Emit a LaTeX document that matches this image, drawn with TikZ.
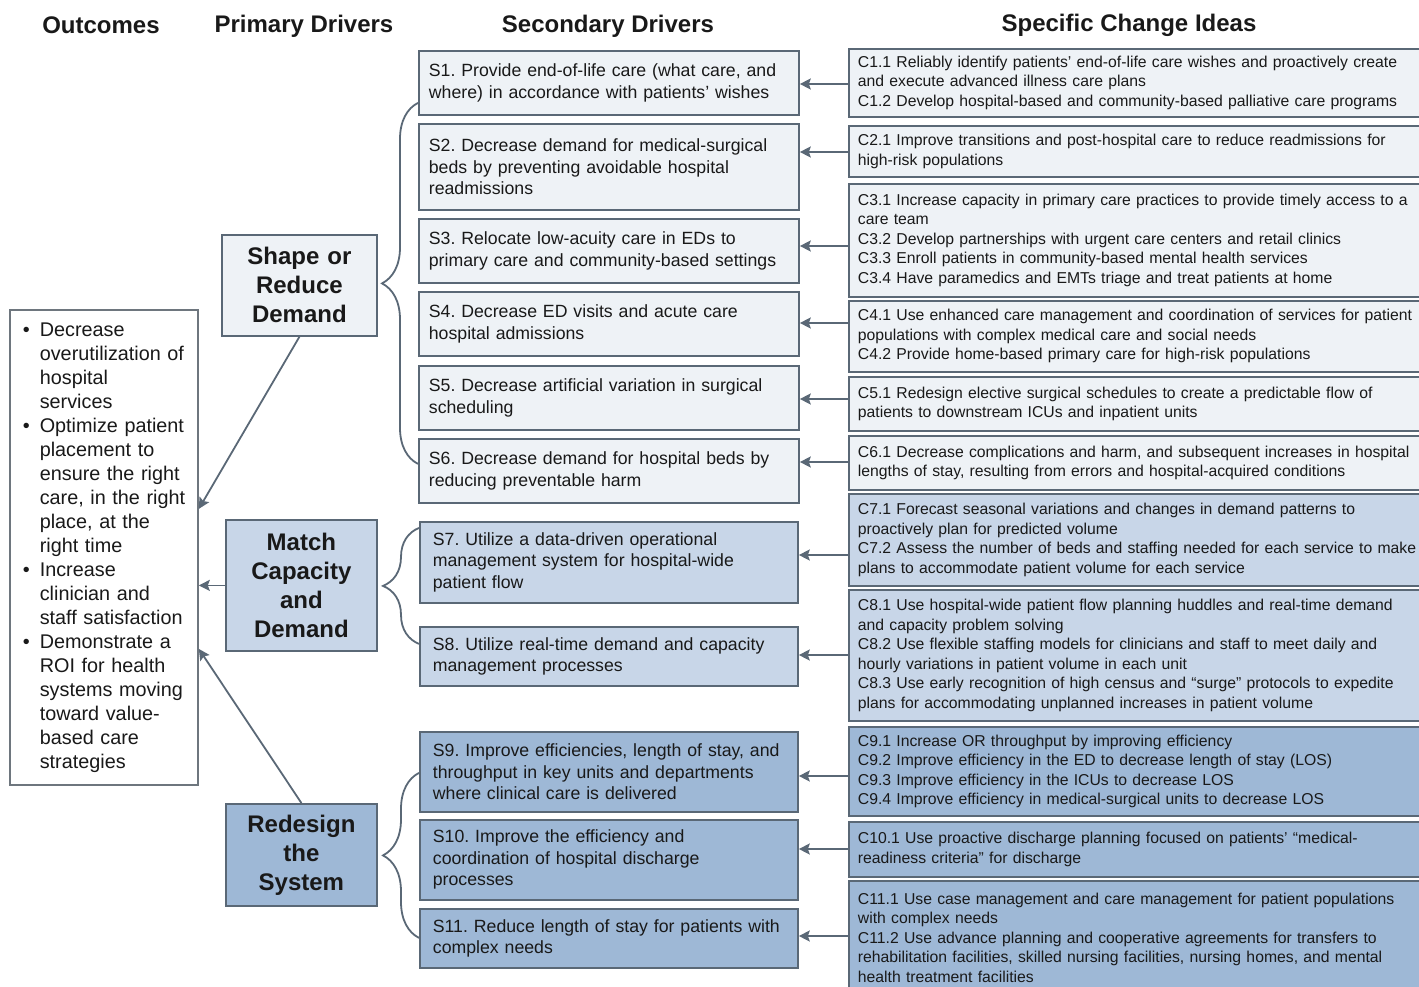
\documentclass[tikz,border=0pt]{standalone}
\usepackage{fontspec}
\setmainfont{Liberation Sans}
\usetikzlibrary{arrows.meta,decorations.pathreplacing}

\definecolor{lightfill}{RGB}{238,242,246}
\definecolor{midfill}{RGB}{200,214,232}
\definecolor{darkfill}{RGB}{158,184,214}
\definecolor{edgegray}{RGB}{90,104,118}
\definecolor{outgray}{RGB}{110,118,126}

\tikzset{
  box/.style={draw=edgegray, line width=1.8pt, anchor=north west, inner ysep=0pt, text=black!90},
  pbox/.style={box, font=\fontsize{24}{29}\selectfont\bfseries, align=center, inner xsep=4pt},
  sbox/.style={box, font=\fontsize{17.7}{21.5}\selectfont, align=left, inner xsep=10pt, text width=360pt},
  sboxb/.style={box, font=\fontsize{17.7}{21.5}\selectfont, align=left, inner xsep=13pt, text width=352pt},
  cbox/.style={box, font=\fontsize{15.75}{19.5}\selectfont, align=left, inner xsep=9pt, text width=562pt},
  head/.style={font=\fontsize{24}{29}\selectfont\bfseries, text=black!90},
  arr/.style={draw=edgegray, line width=1.8pt, -{Stealth[length=11pt,width=11pt,inset=2pt]}},
  brc/.style={draw=edgegray, line width=1.8pt, decorate, decoration={brace, amplitude=36pt}},
}

\begin{document}
\frenchspacing
\begin{tikzpicture}[x=1pt,y=-1pt]

\useasboundingbox (0,0) rectangle (1419,987);

% Column headings
\node[head] (hout) at (101,25) {Outcomes};
\node[head] (hprim) at (304,26) {Primary Drivers};
\node[head] (hsec) at (608,26) {Secondary Drivers};
\node[head] (hchg) at (1129,25) {Specific Change Ideas};

% Outcomes box
\node[box, fill=white, draw=outgray, font=\fontsize{19.8}{24}\selectfont, align=left,
      text width=162pt, inner xsep=13pt, minimum height=475pt] (out) at (9,309)
  {\begin{tabular}{@{}l@{\hspace{10pt}}l@{}}
   \textbullet & Decrease\\
   & overutilization of\\
   & hospital\\
   & services\\
   \textbullet & Optimize patient\\
   & placement to\\
   & ensure the right\\
   & care, in the right\\
   & place, at the\\
   & right time\\
   \textbullet & Increase\\
   & clinician and\\
   & staff satisfaction\\
   \textbullet & Demonstrate a\\
   & ROI for health\\
   & systems moving\\
   & toward value-\\
   & based care\\
   & strategies
   \end{tabular}};

% Primary drivers
\node[pbox, fill=lightfill, text width=147pt, minimum height=101pt] (shape) at (221,234) {Shape or\\Reduce\\Demand};
\node[pbox, fill=midfill, text width=143pt, minimum height=131pt] (match) at (225,519) {Match\\Capacity\\and\\Demand};
\node[pbox, fill=darkfill, text width=143pt, minimum height=102pt] (redesign) at (225,803) {Redesign\\the\\System};

% Secondary drivers
\node[sbox, fill=lightfill, minimum height=64pt] (s1) at (418,50) {S1. Provide end-of-life care (what care, and\\where) in accordance with patients’ wishes};
\node[sbox, fill=lightfill, minimum height=86pt] (s2) at (418,123) {S2. Decrease demand for medical-surgical\\beds by preventing avoidable hospital\\readmissions};
\node[sbox, fill=lightfill, minimum height=64pt] (s3) at (418,218) {S3. Relocate low-acuity care in EDs to\\primary care and community-based settings};
\node[sbox, fill=lightfill, minimum height=64pt] (s4) at (418,291) {S4. Decrease ED visits and acute care\\hospital admissions};
\node[sbox, fill=lightfill, minimum height=64pt] (s5) at (418,365) {S5. Decrease artificial variation in surgical\\scheduling};
\node[sbox, fill=lightfill, minimum height=64pt] (s6) at (418,438) {S6. Decrease demand for hospital beds by\\reducing preventable harm};
\node[sboxb, fill=midfill, minimum height=81pt] (s7) at (419,521) {S7. Utilize a data-driven operational\\management system for hospital-wide\\patient flow};
\node[sboxb, fill=midfill, minimum height=59pt] (s8) at (419,626) {S8. Utilize real-time demand and capacity\\management processes};
\node[sboxb, fill=darkfill, minimum height=80pt] (s9) at (419,731) {S9. Improve efficiencies, length of stay, and\\throughput in key units and departments\\where clinical care is delivered};
\node[sboxb, fill=darkfill, minimum height=80pt] (s10) at (419,819) {S10. Improve the efficiency and\\coordination of hospital discharge\\processes};
\node[sboxb, fill=darkfill, minimum height=59pt] (s11) at (419,908) {S11. Reduce length of stay for patients with\\complex needs};

% Specific change ideas
\node[cbox, fill=lightfill, minimum height=68pt] (c1) at (848,48) {C1.1 Reliably identify patients’ end-of-life care wishes and proactively create\\and execute advanced illness care plans\\C1.2 Develop hospital-based and community-based palliative care programs};
\node[cbox, fill=lightfill, minimum height=51pt] (c2) at (848,125) {C2.1 Improve transitions and post-hospital care to reduce readmissions for\\high-risk populations};
\node[cbox, fill=lightfill, minimum height=113pt] (c3) at (848,183) {C3.1 Increase capacity in primary care practices to provide timely access to a\\care team\\C3.2 Develop partnerships with urgent care centers and retail clinics\\C3.3 Enroll patients in community-based mental health services\\C3.4 Have paramedics and EMTs triage and treat patients at home};
\node[cbox, fill=lightfill, minimum height=71pt] (c4) at (848,300) {C4.1 Use enhanced care management and coordination of services for patient\\populations with complex medical care and social needs\\C4.2 Provide home-based primary care for high-risk populations};
\node[cbox, fill=lightfill, minimum height=54pt] (c5) at (848,376) {C5.1 Redesign elective surgical schedules to create a predictable flow of\\patients to downstream ICUs and inpatient units};
\node[cbox, fill=lightfill, minimum height=54pt] (c6) at (848,435) {C6.1 Decrease complications and harm, and subsequent increases in hospital\\lengths of stay, resulting from errors and hospital-acquired conditions};
\node[cbox, fill=midfill, minimum height=92pt] (c7) at (848,493) {C7.1 Forecast seasonal variations and changes in demand patterns to\\proactively plan for predicted volume\\C7.2 Assess the number of beds and staffing needed for each service to make\\plans to accommodate patient volume for each service};
\node[cbox, fill=midfill, minimum height=131pt] (c8) at (848,589) {C8.1 Use hospital-wide patient flow planning huddles and real-time demand\\and capacity problem solving\\C8.2 Use flexible staffing models for clinicians and staff to meet daily and\\hourly variations in patient volume in each unit\\C8.3 Use early recognition of high census and “surge” protocols to expedite\\plans for accommodating unplanned increases in patient volume};
\node[cbox, fill=darkfill, minimum height=89pt] (c9) at (848,726) {C9.1 Increase OR throughput by improving efficiency\\C9.2 Improve efficiency in the ED to decrease length of stay (LOS)\\C9.3 Improve efficiency in the ICUs to decrease LOS\\C9.4 Improve efficiency in medical-surgical units to decrease LOS};
\node[cbox, fill=darkfill, minimum height=55pt] (c10) at (848,821) {C10.1 Use proactive discharge planning focused on patients’ “medical-\\readiness criteria” for discharge};
\node[cbox, fill=darkfill, minimum height=113pt] (c11) at (848,880) {C11.1 Use case management and care management for patient populations\\with complex needs\\C11.2 Use advance planning and cooperative agreements for transfers to\\rehabilitation facilities, skilled nursing facilities, nursing homes, and mental\\health treatment facilities};

% Arrows from change ideas to secondary drivers
\foreach \i/\y in {1/84,2/152,3/246,4/323,5/399,6/462,7/555,8/655,9/776,10/849,11/936}{
  \coordinate (ay) at (0,\y);
  \draw[arr] (c\i.west |- ay) -- (s\i.east |- ay);
}

% Braces from primary to secondary drivers
\draw[brc] ([yshift=7pt]s6.west) -- ([yshift=-20pt]s1.west);
\draw[brc] ([yshift=12.5pt]s8.west) -- ([yshift=34.5pt]s7.west);
\draw[brc] ([yshift=0.5pt]s11.west) -- ([yshift=-1pt]s9.west);

% Arrows from primary drivers to outcomes
\draw[arr] (shape.south) -- ([yshift=38.5pt]out.east);
\draw[arr] (match.west) -- (match.west -| out.east);
\draw[arr] (redesign.north) -- ([yshift=-101.5pt]out.east);

\end{tikzpicture}
\end{document}
